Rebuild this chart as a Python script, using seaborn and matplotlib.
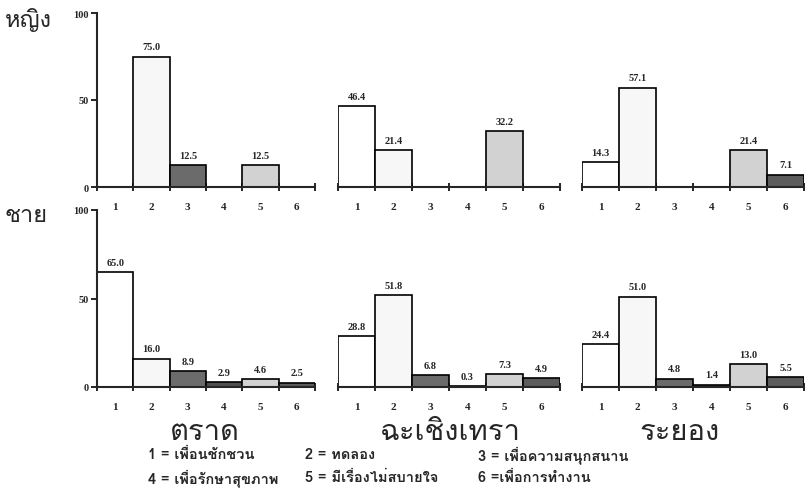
import matplotlib
matplotlib.use('Agg')
import matplotlib.pyplot as plt
import seaborn as sns
from matplotlib import font_manager, ft2font

# ข้อมูล (ร้อยละ) ตามจังหวัดและเพศ
reasons = ['1', '2', '3', '4', '5', '6']
provinces = ['ตราด', 'ฉะเชิงเทรา', 'ระยอง']
female_trat = [0, 75.0, 12.5, 0, 12.5, 0]
female_chachoengsao = [46.4, 21.4, 0, 0, 32.2, 0]
female_rayong = [14.3, 57.1, 0, 0, 21.4, 7.1]
male_trat = [65.0, 16.0, 8.9, 2.9, 4.6, 2.5]
male_chachoengsao = [28.8, 51.8, 6.8, 0.3, 7.3, 4.9]
male_rayong = [24.4, 51.0, 4.8, 1.4, 13.0, 5.5]
legend_labels = ['1 = เพื่อนชักชวน', '2 = ทดลอง', '3 = เพื่อความสนุกสนาน',
                 '4 = เพื่อรักษาสุขภาพ', '5 = มีเรื่องไม่สบายใจ', '6 =เพื่อการทำงาน']
bar_colors = ['#ffffff', '#f7f7f7', '#6b6b6b', '#4d4d4d', '#d2d2d2', '#5c5c5c']


def find_thai_font():
    names = []
    for f in font_manager.fontManager.ttflist:
        try:
            cmap = ft2font.FT2Font(f.fname).get_charmap()
        except Exception:
            continue
        if 0x0E2B in cmap and f.name not in names:
            names.append(f.name)
    return names


sns.set_style('white')
thai = find_thai_font()
plt.rcParams['font.family'] = thai + ['DejaVu Sans']
serif = 'Liberation Serif'

fig = plt.figure(figsize=(8.05, 5.02), dpi=100)

rows = [[female_trat, female_chachoengsao, female_rayong],
        [male_trat, male_chachoengsao, male_rayong]]
row_box = [(1 - 188 / 502, 174 / 502), (1 - 388 / 502, 177 / 502)]
col_box = [(97 / 805, 218 / 805), (338 / 805, 222 / 805), (582 / 805, 222 / 805)]

for r, row in enumerate(rows):
    for c, vals in enumerate(row):
        ax = fig.add_axes([col_box[c][0], row_box[r][0], col_box[c][1], row_box[r][1]])
        sns.barplot(x=reasons, y=vals, hue=reasons, palette=bar_colors, width=1,
                    edgecolor='black', linewidth=1.2, legend=False, ax=ax)
        ax.set_xlim(-0.5, 5.5)
        ax.set_ylim(0, 100)
        for i, v in enumerate(vals):
            if v > 0:
                ax.text(i, v + 3, f'{v:.1f}', ha='center', va='bottom',
                        fontsize=7.5, fontweight='bold', family=serif)
        sns.despine(ax=ax, left=(c != 0))
        ax.spines['bottom'].set_linewidth(1.5)
        ax.set_xticks(range(6))
        ax.set_xticklabels(reasons, family=serif, fontweight='bold', fontsize=8)
        ax.set_xticks([x - 0.5 for x in range(7)], minor=True)
        ax.tick_params(axis='x', which='major', bottom=False, length=0, pad=11)
        ax.tick_params(axis='x', which='minor', bottom=True, length=6,
                       direction='inout', width=1.2, color='black')
        ax.set_xlabel('')
        if c == 0:
            ax.set_yticks([0, 50, 100])
            ax.set_yticklabels(['0', '50', '100'], family=serif, fontweight='bold', fontsize=7.5)
            ax.tick_params(axis='y', left=True, length=4, direction='out', width=1.2,
                           color='black', pad=2)
            ax.spines['left'].set_linewidth(1.5)
        else:
            ax.set_yticks([])
        ax.set_ylabel('')

fig.text(5 / 805, 1 - 20 / 502, 'หญิง', fontsize=17, va='center', ha='left')
fig.text(5 / 805, 1 - 216 / 502, 'ชาย', fontsize=17, va='center', ha='left')

for name, xc in zip(provinces, [205, 450, 680]):
    fig.text(xc / 805, 1 - 432 / 502, name, fontsize=21, ha='center', va='center')

legend_x = [148, 305, 478]
for k, lab in enumerate(legend_labels):
    fig.text(legend_x[k % 3] / 805, 1 - (455 + 23 * (k // 3)) / 502, lab,
             fontsize=10.5, fontweight='bold', ha='left', va='center')

fig.savefig('out.png', dpi=100)
